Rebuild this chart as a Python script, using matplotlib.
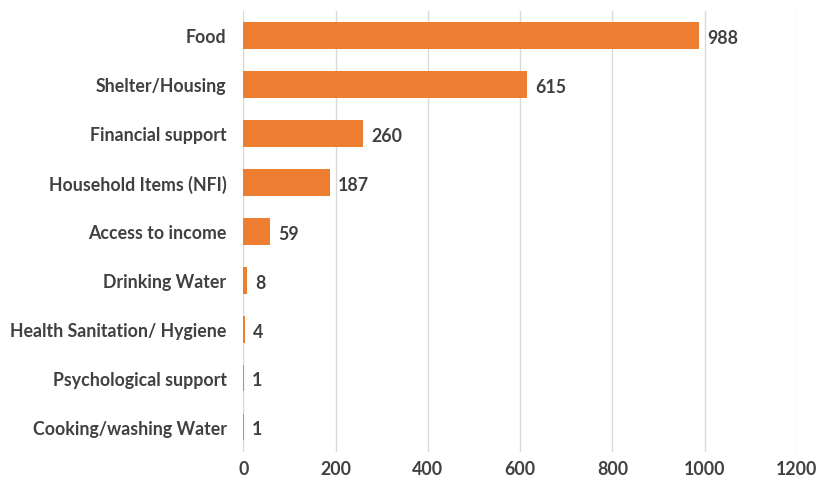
import matplotlib
matplotlib.use('Agg')
import matplotlib.pyplot as plt

plt.rcParams['font.family'] = ['Lato', 'DejaVu Sans']

categories = ['Food', 'Shelter/Housing', 'Financial support', 'Household Items (NFI)',
              'Access to income', 'Drinking Water', 'Health Sanitation/ Hygiene',
              'Psychological support', 'Cooking/washing Water']
values = [988, 615, 260, 187, 59, 8, 4, 1, 1]
xticks = [0, 200, 400, 600, 800, 1000, 1200]

text_color = '#404040'
fs = 12.8

fig = plt.figure(figsize=(8.19, 4.85), dpi=100)
ax = fig.add_axes([0.297, 0.067, 0.676, 0.909])

pos = list(range(len(categories)))
ax.barh(pos, values, height=0.55, color='#ED7D31', zorder=2)
ax.set_ylim(len(categories) - 0.5, -0.5)
ax.set_xlim(0, 1200)
ax.set_xticks(xticks)
ax.set_yticks(pos)
ax.set_yticklabels(categories, fontsize=fs, fontweight='bold', color=text_color)
ax.set_xticklabels([str(t) for t in xticks], fontsize=fs, fontweight='bold', color=text_color)

for p, v in zip(pos, values):
    ax.text(v + 17, p + 0.04, str(v), va='center', ha='left', fontsize=fs,
            fontweight='bold', color=text_color)

ax.grid(axis='x', color='#D9D9D9', linewidth=1, zorder=0)
for s in ax.spines.values():
    s.set_visible(False)
ax.tick_params(axis='both', length=0)
ax.tick_params(axis='y', pad=12)
ax.tick_params(axis='x', pad=6)

fig.savefig('out.png', dpi=100)
